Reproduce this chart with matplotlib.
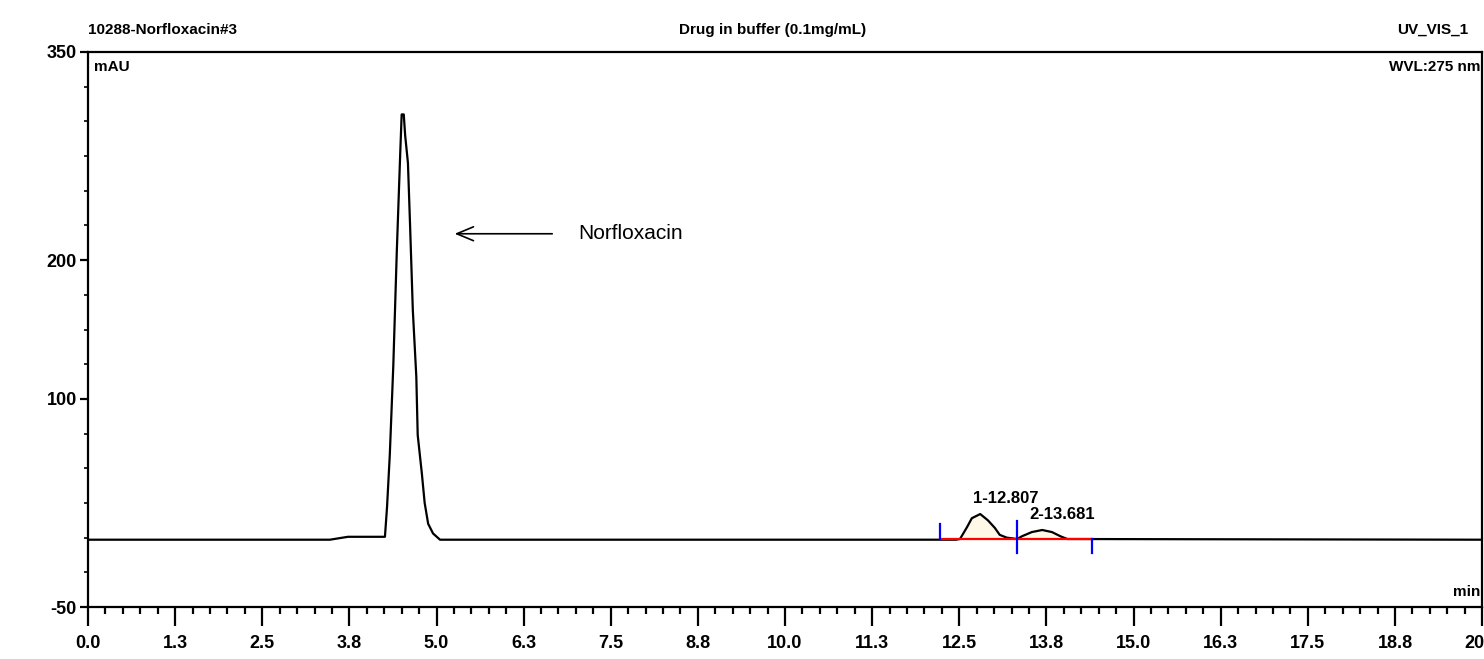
import matplotlib
matplotlib.use("Agg")
import matplotlib.pyplot as plt
from matplotlib.ticker import MultipleLocator, FixedLocator, FixedFormatter

# ---- data ----
time_min = [0.00, 3.47, 3.73, 4.26, 4.29, 4.33, 4.38, 4.43, 4.48, 4.50, 4.53, 4.55,
            4.59, 4.62, 4.66, 4.71, 4.73, 4.79, 4.83, 4.88, 4.95, 5.05,
            12.45, 12.51, 12.61, 12.68, 12.80, 12.91, 13.01, 13.08, 13.18, 13.33,
            13.40, 13.54, 13.69, 13.83, 13.95, 14.05, 20.00]
signal_mau = [-1.5, -1.5, 0.6, 0.6, 22, 60, 124, 206, 278, 305, 305, 290,
              270, 226, 164, 116, 74, 46, 25, 10, 3, -1.5,
              -1.5, -1.0, 7.5, 14, 17, 12.5, 7, 2, 0, -1.0,
              1, 4, 5.5, 4, 1, -1.0, -1.5]

peak_labels = ["1-12.807", "2-13.681"]
peak_label_t = [12.70, 13.50]
peak_label_v = [23, 11]
integ_start, integ_split, integ_end = 12.22, 13.33, 14.40
fill_start, fill_end = 12.51, 14.05

x_major = [0.0, 1.25, 2.5, 3.75, 5.0, 6.25, 7.5, 8.75, 10.0, 11.25, 12.5,
           13.75, 15.0, 16.25, 17.5, 18.75, 20.0]
x_labels = ["0.0", "1.3", "2.5", "3.8", "5.0", "6.3", "7.5", "8.8", "10.0", "11.3",
            "12.5", "13.8", "15.0", "16.3", "17.5", "18.8", "20.0"]
y_major = [-50, 100, 200, 350]
y_labels = ["-50", "100", "200", "350"]

NARROW = ["Liberation Sans", "DejaVu Sans"]

fig = plt.figure(figsize=(14.84, 6.59), dpi=100)
ax = fig.add_axes([0.0593, 0.0789, 0.9394, 0.8422])
ax.set_xlim(0, 20)
ax.set_ylim(-50, 350)

ax.plot(time_min, signal_mau, color="black", lw=1.6, zorder=3)

# peak area fill
fx = [t for t in time_min if fill_start <= t <= fill_end]
fy = [s for t, s in zip(time_min, signal_mau) if fill_start <= t <= fill_end]
ax.fill_between(fx, fy, -1.0, color="#fff8e6", zorder=2)

# integration baseline and delimiters
ax.plot([integ_start, integ_end], [-1.0, -1.0], color="red", lw=1.6, zorder=4)
ax.plot([integ_start, integ_start], [-1.0, 10], color="blue", lw=1.6, zorder=4)
ax.plot([integ_split, integ_split], [12, -11], color="blue", lw=1.6, zorder=4)
ax.plot([integ_end, integ_end], [-1.0, -11], color="blue", lw=1.6, zorder=4)

# peak labels
for lab, t, v in zip(peak_labels, peak_label_t, peak_label_v):
    ax.text(t, v, lab, ha="left", va="bottom", fontsize=12, family=NARROW,
            fontweight="bold")

# annotation
ax.annotate("", xy=(5.22, 219), xytext=(6.70, 219),
            arrowprops=dict(arrowstyle="->,head_length=1.2,head_width=0.5", lw=1.2,
                            color="black"))
ax.text(7.03, 219, "Norfloxacin", fontsize=15, va="center", ha="left",
        family=["Liberation Sans", "DejaVu Sans"])

# axes styling
for s in ax.spines.values():
    s.set_linewidth(1.6)
ax.xaxis.set_major_locator(FixedLocator(x_major))
ax.xaxis.set_major_formatter(FixedFormatter(x_labels))
ax.xaxis.set_minor_locator(MultipleLocator(0.25))
ax.yaxis.set_major_locator(FixedLocator(y_major))
ax.yaxis.set_major_formatter(FixedFormatter(y_labels))
ax.yaxis.set_minor_locator(MultipleLocator(25))
ax.tick_params(axis="x", which="major", length=14, width=1.6, pad=6)
ax.tick_params(axis="x", which="minor", length=5, width=1.6)
ax.tick_params(axis="y", which="major", length=6, width=1.6, pad=2)
ax.tick_params(axis="y", which="minor", length=3, width=1.2)
for lab in ax.get_xticklabels() + ax.get_yticklabels():
    lab.set_family(NARROW)
    lab.set_fontsize(13)
    lab.set_fontweight("bold")

# header texts
fig.text(88 / 1484, 1 - 30 / 659, "10288-Norfloxacin#3", ha="left", va="center",
         fontsize=11, family=NARROW, fontweight="bold")
fig.text(773 / 1484, 1 - 30 / 659, "Drug in buffer (0.1mg/mL)", ha="center", va="center",
         fontsize=11, family=NARROW, fontweight="bold")
fig.text(1468 / 1484, 1 - 30 / 659, "UV_VIS_1", ha="right", va="center",
         fontsize=11, family=NARROW, fontweight="bold")
ax.text(0.004, 0.985, "mAU", transform=ax.transAxes, ha="left", va="top",
        fontsize=11, family=NARROW, fontweight="bold")
ax.text(0.999, 0.985, "WVL:275 nm", transform=ax.transAxes, ha="right", va="top",
        fontsize=11, family=NARROW, fontweight="bold")
ax.text(0.999, 0.015, "min", transform=ax.transAxes, ha="right", va="bottom",
        fontsize=11, family=NARROW, fontweight="bold")

fig.savefig("out.png", dpi=100, facecolor="white")
